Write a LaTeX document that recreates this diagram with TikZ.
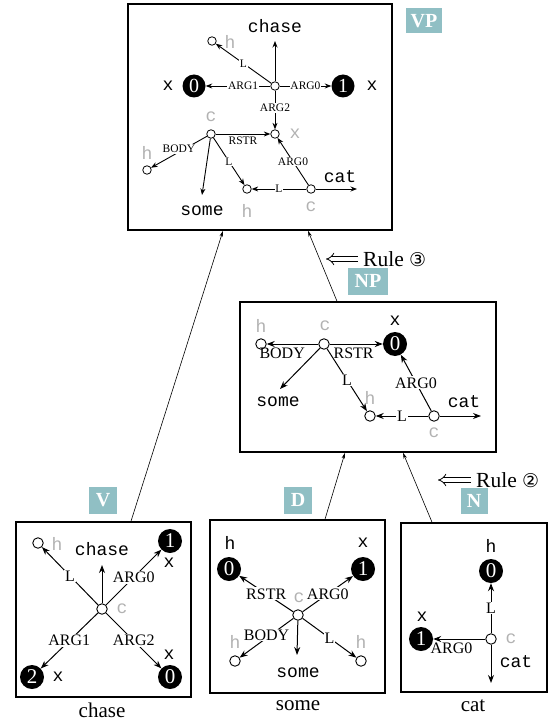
\documentclass[tikz,border=0pt]{standalone}
\usepackage{fontspec}
\setmainfont{Liberation Serif}
\setmonofont{Liberation Mono}
\newfontfamily\dejavu{DejaVu Sans}
\usetikzlibrary{arrows.meta}
\definecolor{tagc}{RGB}{144,191,196}
\definecolor{lgray}{RGB}{178,178,178}
\begin{document}
\begin{tikzpicture}[x=1pt,y=-1pt,
  boxframe/.style={draw, line width=1.6pt, inner sep=0, minimum width=#1},
  tagbox/.style={fill=tagc, text=white, inner sep=0, font=\bfseries\fontsize{20}{20}\selectfont},
  sm/.style={circle, draw, fill=white, inner sep=0, minimum size=10.5pt, line width=0.9pt},
  smv/.style={circle, draw, fill=white, inner sep=0, minimum size=8.5pt, line width=0.8pt},
  blk/.style={circle, fill=black, inner sep=0, minimum size=24pt, text=white, font=\fontsize{21}{21}\selectfont},
  blkv/.style={circle, fill=black, inner sep=0, minimum size=23pt, text=white, font=\fontsize{20}{20}\selectfont},
  tt/.style={inner sep=0, font=\ttfamily\fontsize{18}{18}\selectfont},
  gr/.style={tt, text=lgray},
  lbl/.style={fill=white, inner sep=1pt, font=\fontsize{16}{16}\selectfont},
  lblb/.style={inner sep=1pt, font=\fontsize{16}{16}\selectfont},
  lblv/.style={fill=white, inner sep=0.8pt, font=\fontsize{11.5}{12}\selectfont},
  lblvb/.style={inner sep=1pt, font=\fontsize{11.5}{12}\selectfont},
  ar/.style={-{Stealth[length=8pt,width=6pt]}, line width=1pt},
  arv/.style={-{Stealth[length=6.5pt,width=5pt]}, line width=0.9pt},
  conn/.style={-{Stealth[length=6pt,width=3.5pt]}, line width=0.6pt},
  dblarrow/.style={double, double distance=3.6pt, line width=0.8pt, -{Implies}},
  captxt/.style={inner sep=0, font=\fontsize{21}{21}\selectfont},
  ruletxt/.style={inner sep=0, font=\fontsize{21.5}{21.5}\selectfont}
]
\useasboundingbox (0,0) rectangle (548,722);

% ---------- boxes ----------
\node[boxframe=264, minimum height=226] (VPbox) at (260,117) {};
\node[boxframe=256, minimum height=150] (NPbox) at (368,377) {};
\node[boxframe=175, minimum height=175] (Vbox) at (103.5,609.5) {};
\node[boxframe=175, minimum height=173] (Dbox) at (297.5,606.5) {};
\node[boxframe=146, minimum height=169] (Nbox) at (474,607.5) {};

% ---------- tags ----------
\node[tagbox, minimum width=36, minimum height=25] (VPtag) at (424,21) {VP};
\node[tagbox, minimum width=40, minimum height=27] (NPtag) at (368,281) {NP};
\node[tagbox, minimum width=28, minimum height=27] (Vtag) at (103,500) {V};
\node[tagbox, minimum width=28, minimum height=27] (Dtag) at (298,500) {D};
\node[tagbox, minimum width=27, minimum height=26] (Ntag) at (474,501) {N};

% ---------- connectors between boxes ----------
\draw[conn] ([xshift=27.5pt]Vbox.north) -- ([xshift=-37pt]VPbox.south);
\draw[conn] ([xshift=-31pt]NPbox.north) -- ([xshift=48pt]VPbox.south);
\draw[conn] ([xshift=27.5pt]Dbox.north) -- ([xshift=-23pt]NPbox.south);
\draw[conn] ([xshift=-42pt]Nbox.north) -- ([xshift=35pt]NPbox.south);

% ---------- rule annotations ----------
\node[ruletxt, anchor=west] (rule3) at (363,259) {Rule {\dejavu\fontsize{19}{19}\selectfont ③}};
\coordinate (r3s) at (358,259);
\coordinate (r3e) at (326,259);
\draw[dblarrow] (r3s) -- (r3e);
\node[ruletxt, anchor=west] (rule2) at (476,480) {Rule {\dejavu\fontsize{19}{19}\selectfont ②}};
\coordinate (r2s) at (471,480);
\coordinate (r2e) at (438,480);
\draw[dblarrow] (r2s) -- (r2e);

% ---------- captions ----------
\node[captxt] (capV) at (102,710) {chase};
\node[captxt] (capD) at (298,706) {some};
\node[captxt] (capN) at (473,706) {cat};

% ---------- VP contents ----------
\node[smv] (vc) at (275,86) {};
\node[tt] (vchase) at (275,26) {chase};
\coordinate (vchaseE) at (275,41);
\draw[arv] (vc) -- (vchaseE);
\node[smv] (vh) at (212,41) {};
\node[gr] (vhl) at (230,42) {h};
\draw[arv] (vc) -- node[lblv] {L} (vh);
\node[blkv] (v0) at (194,86) {0};
\node[tt] (v0x) at (168,86) {x};
\draw[arv] (vc) -- node[lblv, pos=0.42] {ARG1} (v0);
\node[blkv] (v1) at (343,86) {1};
\node[tt] (v1x) at (372,86) {x};
\draw[arv] (vc) -- node[lblv] {ARG0} (v1);
\node[smv] (vx) at (275,134) {};
\node[gr] (vxl) at (295,134) {x};
\draw[arv] (vc) -- node[lblv, pos=0.45] {ARG2} (vx);
\node[smv] (vsc) at (211,134) {};
\node[gr] (vscl) at (211,117) {c};
\draw[arv] (vsc) -- node[lblvb, below=1pt] {RSTR} (vx);
\node[smv] (vbh) at (147,170) {};
\node[gr] (vbhl) at (147,153) {h};
\draw[arv] (vsc) -- node[lblv, yshift=3pt] {BODY} (vbh);
\coordinate (vsomeE) at (202,195);
\node[tt] (vsome) at (202,211) {some};
\draw[arv] (vsc) -- (vsomeE);
\node[smv] (vlh) at (247,189) {};
\node[gr] (vlhl) at (247,211) {h};
\draw[arv] (vsc) -- node[lblv] {L} (vlh);
\node[smv] (vcat) at (311,189) {};
\node[gr] (vcatl) at (311,207) {c};
\draw[arv] (vcat) -- node[lblv] {L} (vlh);
\draw[arv] (vcat) -- node[lblv] {ARG0} (vx);
\coordinate (vcatE) at (357,189);
\node[tt] (vcatt) at (340,177) {cat};
\draw[arv] (vcat) -- (vcatE);

% ---------- NP contents ----------
\node[sm] (nc) at (324,344) {};
\node[gr] (ncl) at (325,326) {c};
\node[sm] (nh) at (261,344) {};
\node[gr] (nhl) at (261,326) {h};
\draw[ar] (nc) -- node[lblb, below=2pt, pos=0.7] {BODY} (nh);
\node[blk] (n0) at (395,344) {0};
\node[tt] (n0x) at (395,321) {x};
\draw[ar] (nc) -- node[lblb, below=2pt, pos=0.45] {RSTR} (n0);
\coordinate (nsomeE) at (280,389);
\node[tt] (nsome) at (278,402) {some};
\draw[ar] (nc) -- (nsomeE);
\node[sm] (nlh) at (370,416) {};
\node[gr] (nlhl) at (370,398) {h};
\draw[ar] (nc) -- node[lbl] {L} (nlh);
\node[sm] (ncat) at (434,416) {};
\node[gr] (ncatl) at (434,433) {c};
\draw[ar] (ncat) -- node[lbl] {L} (nlh);
\draw[ar] (ncat) -- node[lbl] {ARG0} (n0);
\coordinate (ncatE) at (481,416);
\node[tt] (ncatt) at (464,402) {cat};
\draw[ar] (ncat) -- (ncatE);

% ---------- V contents ----------
\node[sm] (Vc) at (102,609) {};
\node[gr] (Vcl) at (122,609) {c};
\node[tt] (Vchase) at (102,549) {chase};
\coordinate (VchaseE) at (102,565);
\draw[ar] (Vc) -- (VchaseE);
\node[sm] (Vh) at (38,543) {};
\node[gr] (Vhl) at (57,544) {h};
\draw[ar] (Vc) -- node[lbl] {L} (Vh);
\node[blk] (V1) at (170,541) {1};
\node[tt] (V1x) at (169,563) {x};
\draw[ar] (Vc) -- node[lbl] {ARG0} (V1);
\node[blk] (V2) at (32,677) {2};
\node[tt] (V2x) at (58,677) {x};
\draw[ar] (Vc) -- node[lbl] {ARG1} (V2);
\node[blk] (V0) at (170,677) {0};
\node[tt] (V0x) at (169,655) {x};
\draw[ar] (Vc) -- node[lbl] {ARG2} (V0);

% ---------- D contents ----------
\node[sm] (Dc) at (298,615) {};
\node[gr] (Dcl) at (299,598) {c};
\node[blk] (D0) at (229,569) {0};
\node[tt] (D0h) at (230,543) {h};
\draw[ar] (Dc) -- node[lbl] {RSTR} (D0);
\node[blk] (D1) at (363,569) {1};
\node[tt] (D1x) at (363,543) {x};
\draw[ar] (Dc) -- node[lbl] {ARG0} (D1);
\node[sm] (Dhl) at (235,661) {};
\node[gr] (Dhll) at (235,642) {h};
\draw[ar] (Dc) -- node[lbl, yshift=3pt] {BODY} (Dhl);
\node[sm] (Dhr) at (361,661) {};
\node[gr] (Dhrl) at (361,642) {h};
\draw[ar] (Dc) -- node[lbl] {L} (Dhr);
\coordinate (DsomeE) at (297,655);
\node[tt] (Dsome) at (298,673) {some};
\draw[ar] (Dc) -- (DsomeE);

% ---------- N contents ----------
\node[sm] (Nc) at (491,639) {};
\node[gr] (Ncl) at (511,639) {c};
\node[blk] (N0) at (491,571) {0};
\node[tt] (N0h) at (491,546) {h};
\draw[ar] (Nc) -- node[lbl] {L} (N0);
\node[blk] (N1) at (421,639) {1};
\node[tt] (N1x) at (422,617) {x};
\draw[ar] (Nc) -- node[lblb, below=2pt, pos=0.65] {ARG0} (N1);
\coordinate (NcatE) at (491,683);
\node[tt] (Ncat) at (516,662) {cat};
\draw[ar] (Nc) -- (NcatE);
\end{tikzpicture}
\end{document}
